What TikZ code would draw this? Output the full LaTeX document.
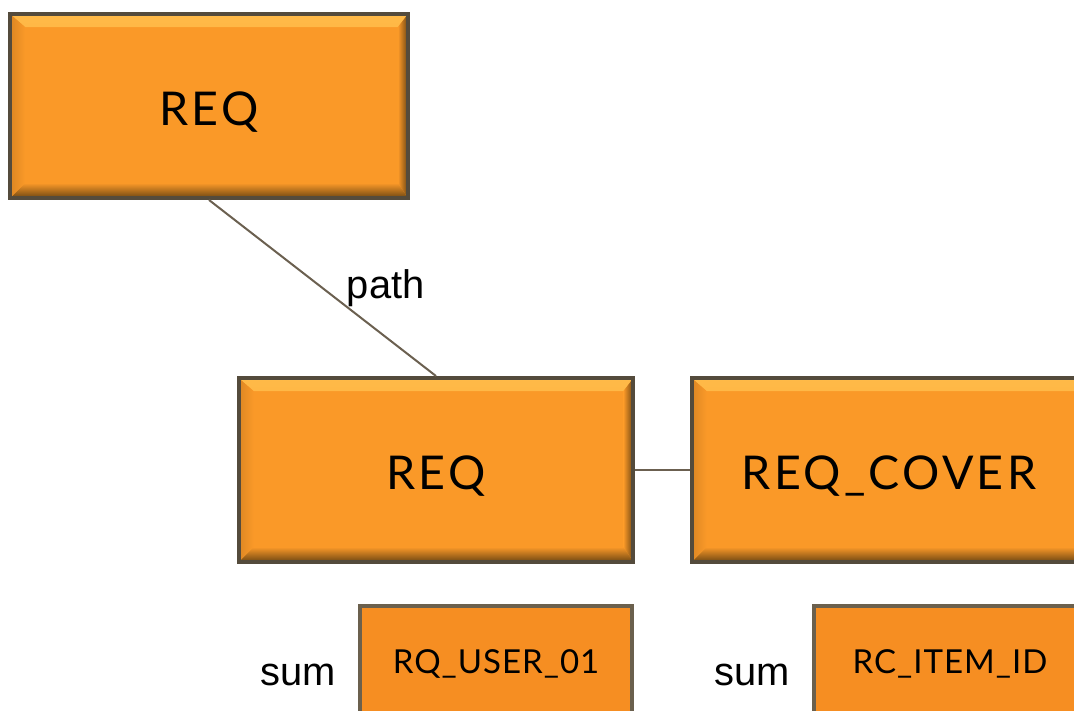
\documentclass[tikz,border=0pt]{standalone}
\usepackage{fontspec}
\usepackage{tikz}
\setmainfont{Liberation Sans}
\newfontfamily\boxfont[LetterSpace=7]{Lato}
\newfontfamily\fieldfont[LetterSpace=3]{Lato}
\definecolor{boxfill}{RGB}{250,153,40}
\definecolor{boxedge}{RGB}{84,75,60}
\definecolor{bevlight}{RGB}{255,186,72}
\definecolor{bevdark}{RGB}{110,70,18}
\definecolor{fieldfill}{RGB}{246,142,34}
\definecolor{fieldedge}{RGB}{107,96,77}
\definecolor{linkcol}{RGB}{107,96,80}

\tikzset{
  bevelbox/.style={draw=boxedge, line width=0.08cm, fill=boxfill,
    minimum width=7.9cm, minimum height=3.68cm, inner sep=0pt,
    text height=0.78cm, text depth=0pt,
    font=\boxfont\fontsize{26.5}{30}\selectfont,
    path picture={
      \def\bb{path picture bounding box}
      \shade[top color=bevlight, bottom color=boxfill]
        (\bb.north west) -- (\bb.north east)
        -- ([xshift=-0.2cm,yshift=-0.26cm]\bb.north east)
        -- ([xshift=0.3cm,yshift=-0.26cm]\bb.north west) -- cycle;
      \shade[top color=boxfill, bottom color=bevdark]
        (\bb.south west) -- (\bb.south east)
        -- ([xshift=-0.2cm,yshift=0.3cm]\bb.south east)
        -- ([xshift=0.3cm,yshift=0.3cm]\bb.south west) -- cycle;
      \shade[left color=boxfill, right color=bevdark]
        (\bb.north east) -- (\bb.south east)
        -- ([xshift=-0.2cm,yshift=0.3cm]\bb.south east)
        -- ([xshift=-0.2cm,yshift=-0.26cm]\bb.north east) -- cycle;
      \shade[left color=boxfill!88!black, right color=boxfill]
        (\bb.north west) -- (\bb.south west)
        -- ([xshift=0.3cm,yshift=0.3cm]\bb.south west)
        -- ([xshift=0.3cm,yshift=-0.26cm]\bb.north west) -- cycle;
    }},
  fieldbox/.style={draw=fieldedge, line width=0.08cm, fill=fieldfill,
    minimum width=5.44cm, minimum height=2.24cm, inner sep=0pt,
    text height=0.45cm, text depth=0pt,
    font=\fieldfont\fontsize{18.8}{21}\selectfont},
  edgelabel/.style={font=\fontsize{22.7}{26}\selectfont},
  link/.style={draw=linkcol, line width=0.04cm}
}

\begin{document}
\begin{tikzpicture}[x=0.02cm,y=-0.02cm]
\useasboundingbox (0,0) rectangle (1074,710);
\clip (0,0) rectangle (1074,710);
% Tables
\node[bevelbox, minimum width=7.96cm] (reqtop) at (209,106) {REQ};
\node[bevelbox] (reqmid) at (436,470) {REQ};
\node[bevelbox] (reqcover) at (889,470) {REQ\_COVER};
% Summed fields
\node[fieldbox] (rquser) at (496,662) {RQ\_USER\_01};
\node[fieldbox] (rcitem) at (950,662) {RC\_ITEM\_ID};
\node[edgelabel] (sumuser) at (298,675) {sum};
\node[edgelabel] (sumitem) at (752,675) {sum};
% Links
\draw[link] (reqtop.south) -- node[edgelabel, midway, right=0.35cm] (pathlbl) {path} (reqmid.north);
\draw[link] (reqmid.east) -- (reqcover.west);
\end{tikzpicture}
\end{document}
